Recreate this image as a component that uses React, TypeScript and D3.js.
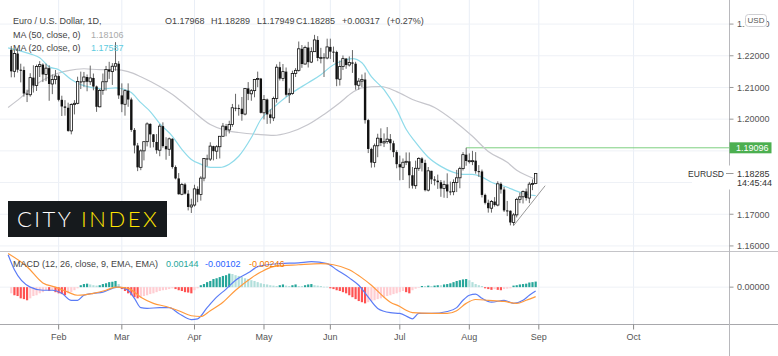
import React from 'react';
import * as d3 from 'd3';

// ---- Daily EUR/USD bars, 11 Jan 2021 .. 31 Aug 2021 ----
const opens = [
  1.2219,1.2151,1.2207,1.2156,1.2155,1.2081,1.2077,1.2131,1.2106,1.2166,1.2172,1.2141,1.2161,1.2111,1.2125,
  1.2136,1.2061,1.2040,1.2036,1.1963,1.2046,1.2050,1.2119,1.2118,1.2133,1.2118,1.2130,1.2103,1.2039,1.2091,1.2118,1.2157,1.2150,1.2167,1.2175,
  1.2075,1.2047,1.2090,1.2062,1.1966,1.1917,1.1848,1.1900,1.1929,1.1985,1.1952,1.1928,1.1902,1.1978,1.1915,1.1905,1.1938,1.1849,1.1813,1.1763,1.1794,1.1765,1.1723,
  1.1729,1.1780,1.1762,1.1814,1.1876,1.1874,1.1915,1.1899,1.1913,1.1946,1.1978,1.1966,1.1983,1.2036,1.2035,1.2033,1.2016,1.2097,1.2080,1.2090,1.2125,1.2128,
  1.2020,1.2062,1.2015,1.2004,1.2065,1.2164,1.2128,1.2150,1.2077,1.2081,1.2144,1.2154,1.2222,1.2174,1.2226,1.2180,1.2213,1.2250,1.2193,1.2195,1.2193,
  1.2228,1.2213,1.2212,1.2126,1.2166,1.2191,1.2171,1.2179,1.2175,1.2107,1.2120,1.2125,1.1997,1.1906,1.1863,1.1916,1.1940,1.1925,1.1929,1.1937,1.1924,1.1896,
  1.1858,1.1848,1.1864,1.1867,1.1823,1.1790,1.1845,1.1876,1.1862,1.1776,1.1837,1.1810,1.1806,1.1801,1.1781,1.1794,1.1772,1.1771,1.1800,1.1815,1.1844,1.1888,
  1.1868,1.1869,1.1869,1.1836,1.1835,1.1761,1.1736,1.1719,1.1740,1.1729,1.1796,1.1778,1.1712,1.1711,1.1674,1.1698,1.1747,1.1755,1.1772,1.1751,1.1795,1.17968,
];
const highs = [
  1.2231,1.2217,1.2223,1.2175,1.2166,1.2093,1.2145,1.2170,1.2172,1.2183,1.2176,1.2175,1.2170,1.2141,1.2155,
  1.2141,1.2074,1.2060,1.2052,1.2050,1.2060,1.2134,1.2150,1.2149,1.2141,1.2169,1.2144,1.2106,1.2095,1.2144,1.2168,1.2181,1.2177,1.2243,1.2183,
  1.2113,1.2094,1.2113,1.2068,1.1972,1.1925,1.1905,1.1928,1.1990,1.1987,1.1953,1.1953,1.1985,1.1990,1.1943,1.1942,1.1940,1.1854,1.1830,1.1799,1.1799,1.1776,1.1749,
  1.1793,1.1788,1.1820,1.1877,1.1888,1.1927,1.1916,1.1918,1.1947,1.1988,1.1985,1.1995,1.2048,1.2080,1.2046,1.2070,1.2098,1.2117,1.2095,1.2127,1.2150,1.2130,
  1.2076,1.2065,1.2031,1.2071,1.2173,1.2181,1.2174,1.2163,1.2097,1.2153,1.2161,1.2245,1.2234,1.2232,1.2244,1.2227,1.2266,1.2262,1.2225,1.2208,1.2254,
  1.2254,1.2229,1.2216,1.2185,1.2201,1.2193,1.2198,1.2218,1.2181,1.2130,1.2141,1.2147,1.2001,1.1910,1.1923,1.1954,1.1971,1.1955,1.1975,1.1953,1.1932,1.1902,
  1.1885,1.1876,1.1895,1.1895,1.1849,1.1869,1.1880,1.1880,1.1872,1.1849,1.1837,1.1820,1.1825,1.1808,1.1806,1.1829,1.1803,1.1810,1.1840,1.1850,1.1896,1.19096,
  1.1892,1.1900,1.1896,1.1855,1.1841,1.1765,1.1746,1.1745,1.1754,1.1804,1.1801,1.1786,1.1742,1.1712,1.1704,1.1752,1.1768,1.1775,1.1781,1.1802,1.1810,1.18289,
];
const lows = [
  1.2132,1.2132,1.2147,1.2116,1.2071,1.2054,1.2071,1.2084,1.2089,1.2133,1.2117,1.2120,1.2058,1.2079,1.2110,
  1.2056,1.2010,1.2011,1.1960,1.1952,1.2015,1.2047,1.2095,1.2102,1.2088,1.2108,1.2091,1.2023,1.2037,1.2077,1.2090,1.2127,1.2108,1.2153,1.2064,
  1.2022,1.2011,1.2039,1.1960,1.1892,1.1836,1.1839,1.1870,1.1914,1.1910,1.1911,1.1891,1.1883,1.1910,1.1872,1.1884,1.1844,1.1810,1.1762,1.1760,1.1762,1.1712,1.1704,
  1.1724,1.1738,1.1743,1.1804,1.1851,1.1868,1.1870,1.1874,1.1876,1.1944,1.1946,1.1955,1.1976,1.2025,1.2011,1.1995,1.2012,1.2060,1.2058,1.2069,1.2101,1.2018,
  1.1999,1.1985,1.1986,1.1994,1.2052,1.2122,1.2120,1.2071,1.2051,1.2077,1.2133,1.2150,1.2162,1.2172,1.2163,1.2177,1.2212,1.2183,1.2176,1.2133,1.2189,
  1.2190,1.2180,1.2104,1.2106,1.2155,1.2159,1.2166,1.2146,1.2093,1.2093,1.2101,1.1986,1.1893,1.1847,1.1848,1.1880,1.1915,1.1912,1.1922,1.1902,1.1880,1.1845,
  1.1807,1.1808,1.1855,1.1782,1.1781,1.1780,1.1837,1.1835,1.1772,1.1772,1.1795,1.1791,1.1780,1.1755,1.1752,1.1751,1.1760,1.1760,1.1770,1.1782,1.1838,1.1853,
  1.1860,1.1855,1.1828,1.1818,1.1753,1.1731,1.1705,1.1705,1.1724,1.1725,1.1765,1.1707,1.1694,1.1665,1.1664,1.1690,1.1735,1.1734,1.1743,1.1735,1.1776,1.17949,
];
const closes = [
  1.2151,1.2207,1.2156,1.2155,1.2081,1.2077,1.2131,1.2106,1.2166,1.2172,1.2141,1.2161,1.2111,1.2125,1.2136,
  1.2061,1.2040,1.2036,1.1963,1.2046,1.2050,1.2119,1.2118,1.2133,1.2118,1.2130,1.2103,1.2039,1.2091,1.2118,1.2157,1.2150,1.2167,1.2175,1.2075,
  1.2047,1.2090,1.2062,1.1966,1.1917,1.1848,1.1900,1.1929,1.1985,1.1952,1.1928,1.1902,1.1978,1.1915,1.1905,1.1938,1.1849,1.1813,1.1763,1.1794,1.1765,1.1723,1.1729,
  1.1780,1.1762,1.1814,1.1876,1.1874,1.1915,1.1899,1.1913,1.1946,1.1978,1.1966,1.1983,1.2036,1.2035,1.2033,1.2016,1.2097,1.2080,1.2090,1.2125,1.2128,1.2020,
  1.2062,1.2015,1.2004,1.2065,1.2164,1.2128,1.2150,1.2077,1.2081,1.2144,1.2154,1.2222,1.2174,1.2226,1.2180,1.2213,1.2250,1.2193,1.2195,1.2193,1.2228,
  1.2213,1.2212,1.2126,1.2166,1.2191,1.2171,1.2179,1.2175,1.2107,1.2120,1.2125,1.1997,1.1906,1.1863,1.1916,1.1940,1.1925,1.1929,1.1937,1.1924,1.1896,1.1858,
  1.1848,1.1864,1.1867,1.1823,1.1790,1.1845,1.1876,1.1862,1.1776,1.1837,1.1810,1.1806,1.1801,1.1781,1.1794,1.1772,1.1771,1.1800,1.1815,1.1844,1.1888,1.1868,
  1.1869,1.1869,1.1836,1.1835,1.1761,1.1736,1.1719,1.1740,1.1729,1.1796,1.1778,1.1712,1.1711,1.1674,1.1698,1.1747,1.1755,1.1772,1.1751,1.1795,1.17968,1.18285,
];

// ---- Moving averages: [bar index, price] ----
const ma20Pts: [number, number][] = [
  [-1,1.2225],[6,1.2206],[9,1.2194],[12,1.2165],[15,1.2156],[19,1.2125],[22,1.2109],[26,1.2099],[30,1.2096],[33,1.2099],
  [35,1.2096],[38,1.2084],[41,1.2052],[44,1.2024],[47,1.1986],[51,1.1946],[54,1.1905],[57,1.1873],[60,1.1858],[63,1.1848],
  [66,1.1848],[69,1.1858],[72,1.1883],[76,1.1942],[79,1.1999],[83,1.2037],[88,1.2077],[94,1.2115],[98,1.2140],[101,1.2165],
  [104,1.2181],[108,1.2191],[111,1.2178],[114,1.2134],[118,1.2093],[122,1.2030],[125,1.1968],[128,1.1927],[132,1.1880],
  [136,1.1851],[140,1.1832],[143,1.1826],[146,1.1826],[149,1.1817],[152,1.1801],[157,1.1785],[160,1.1773],[163,1.1763],[166,1.17587],
];
const ma50Pts: [number, number][] = [
  [-1,1.2037],[3,1.2068],[7,1.2103],[12,1.2134],[18,1.2153],[23,1.2159],[28,1.2156],[33,1.2156],[37,1.2150],[41,1.2134],
  [47,1.2103],[52,1.2071],[57,1.2030],[63,1.1983],[68,1.1964],[72,1.1958],[78,1.1952],[83,1.1949],[88,1.1958],[94,1.1983],
  [99,1.2015],[104,1.2052],[108,1.2084],[111,1.2099],[117,1.2103],[122,1.2087],[127,1.2062],[134,1.2037],[140,1.1996],
  [146,1.1946],[151,1.1898],[157,1.1864],[160,1.1839],[163,1.1823],[166,1.18106],
];

// ---- MACD (12, 26, 9), values in units of 0.0001 ----
const macdPts: [number, number][] = [
  [-1,84],[1,45],[6,0],[10,-8],[13,-8],[16,-16],[19,-34],[21,-34],[23,-21],[26,-16],[29,-13],[32,-3],[34,0],[37,-8],
  [39,-29],[41,-53],[43,-55],[47,-53],[50,-53],[53,-68],[57,-84],[59,-82],[62,-53],[65,-26],[68,-5],[71,18],[75,37],
  [78,53],[81,58],[85,61],[91,63],[95,66],[100,61],[103,45],[107,24],[110,5],[113,-26],[116,-55],[120,-66],[123,-68],
  [126,-79],[127,-82],[129,-68],[133,-68],[138,-63],[141,-53],[143,-34],[145,-21],[147,-18],[149,-29],[152,-39],
  [156,-34],[159,-42],[162,-34],[164,-21],[166,-10.2],
];
const signalPts: [number, number][] = [
  [-1,87],[5,53],[10,11],[14,0],[18,-13],[21,-21],[26,-16],[30,-8],[33,0],[37,-3],[41,-26],[45,-42],[49,-50],[53,-61],
  [57,-74],[60,-76],[63,-61],[67,-39],[71,-8],[76,24],[79,39],[83,53],[91,58],[98,61],[102,58],[107,45],[111,24],
  [114,5],[118,-26],[120,-39],[123,-50],[125,-60],[127,-66],[133,-68],[138,-68],[141,-61],[144,-42],[147,-32],
  [151,-34],[156,-37],[160,-42],[163,-34],[166,-24.6],
];
const histE4 = [
  -16,-21,-23,-29,-31,-34,-29,-23,-21,-16,-13,-8,-10,-8,-13,-16,-18,-21,-16,-13,-8,-3,5,8,9,7,5,4,5,8,10,13,14,16,8,
  -5,-10,-16,-21,-26,-29,-26,-23,-21,-18,-16,-13,-10,-8,-7,-5,-3,-5,-8,-10,-13,-14,-16,-8,-3,
  5,8,13,16,21,23,26,29,31,35,34,31,29,26,23,21,18,16,13,10,8,7,5,4,
  3,5,7,4,3,5,7,3,3,5,7,8,5,4,3,1,1,
  -3,-5,-8,-10,-13,-16,-21,-26,-31,-36,-39,-42,-39,-36,-34,-31,-29,-26,-23,-21,-18,-16,-13,-10,-13,-16,-8,-4,-1,
  3,3,4,3,4,5,5,7,8,10,13,16,18,20,21,18,13,8,5,3,
  -3,-5,-7,-5,-7,-8,-5,-4,-3,4,5,7,8,9,12,13,14.4,
];

// ---- Axes ----
const monthLabels = ['Feb', 'Mar', 'Apr', 'May', 'Jun', 'Jul', 'Aug', 'Sep', 'Oct'];
const monthBars = [15, 35, 58, 80, 101, 123, 145, 167, 197];
const priceTicks = [1.16, 1.17, 1.18, 1.19, 1.2, 1.21, 1.22, 1.23];

// ---- Drawings ----
const resistanceLevel = 1.19096;
const resistanceFromBar = 144;
const trendLine: [number, number][] = [[159, 1.1664], [169, 1.179]];

const FONT = "'Liberation Sans', Arial, sans-serif";

export default function App() {
  const W = 778, H = 356;
  const axisX = 729.5;
  const mainTop = 0, mainBottom = 251;
  const macdTop = 252, macdBottom = 325;
  const timeAxisY = 324.5;

  const x = d3.scaleLinear().domain([0, 166]).range([11.27, 11.27 + 166 * 3.159]);
  const y = d3.scaleLinear().domain([1.1584, 1.2376]).range([mainBottom, mainTop]);
  const ym = d3.scaleLinear().domain([-98, 91]).range([macdBottom, macdTop]);

  const pLine = d3.line<[number, number]>().x(d => x(d[0])).y(d => y(d[1])).curve(d3.curveMonotoneX);
  const mLine = d3.line<[number, number]>().x(d => x(d[0])).y(d => ym(d[1])).curve(d3.curveMonotoneX);

  const last = closes.length - 1;
  const lastY = y(closes[last]);
  const resY = y(resistanceLevel);
  const bodyW = 2.4;

  const histColor = (i: number) => {
    const v = histE4[i];
    const p = i > 0 ? histE4[i - 1] : v;
    if (v >= 0) return v > p ? '#26a69a' : '#b2dfdb';
    return v < p ? '#ff5252' : '#ffcdd2';
  };

  // labels hidden by the last-price and resistance badges (as on the chart)
  const visibleTicks = priceTicks.filter(p => Math.abs(y(p) - lastY) > 10 && Math.abs(y(p) - resY) > 9);

  return (
    <svg width={W} height={H} style={{ position: 'absolute', left: 0, top: 0, background: '#fff' }} fontFamily={FONT}>
      <defs>
        <clipPath id="mainClip"><rect x={0} y={mainTop} width={axisX} height={mainBottom - mainTop} /></clipPath>
        <clipPath id="macdClip"><rect x={0} y={macdTop} width={axisX} height={timeAxisY - macdTop} /></clipPath>
        <clipPath id="topLabelClip"><rect x={734} y={0} width={11} height={40} /><rect x={766.5} y={0} width={12} height={40} /></clipPath>
      </defs>
      <rect x={0} y={0} width={W} height={H} fill="#fff" />

      {/* vertical grid */}
      {monthBars.map((b, k) => (
        <line key={'vg' + k} x1={x(b)} x2={x(b)} y1={0} y2={timeAxisY} stroke="#e9eef6" strokeWidth={1} />
      ))}
      {/* horizontal grid */}
      {priceTicks.map((p, k) => (
        <line key={'hg' + k} x1={0} x2={axisX} y1={y(p)} y2={y(p)} stroke="#eef1f6" strokeWidth={1} />
      ))}
      <line x1={0} x2={axisX} y1={ym(0)} y2={ym(0)} stroke="#eef1f6" strokeWidth={1} />

      <g clipPath="url(#mainClip)">
        {/* resistance line */}
        <line x1={x(resistanceFromBar)} x2={axisX} y1={resY} y2={resY} stroke="#7ccf7f" strokeWidth={1} />
        {/* MAs */}
        <path d={pLine(ma50Pts) || ''} fill="none" stroke="#c6c6cc" strokeWidth={1.2} />
        <path d={pLine(ma20Pts) || ''} fill="none" stroke="#8fdbea" strokeWidth={1.2} />
        {/* candles */}
        {closes.map((c, i) => {
          const o = opens[i];
          const cx = x(i);
          const up = c >= o;
          const top = y(Math.max(o, c));
          const h = Math.max(1, Math.abs(y(o) - y(c)));
          return (
            <g key={'c' + i}>
              <line x1={cx} x2={cx} y1={y(highs[i])} y2={y(lows[i])} stroke="#666" strokeWidth={1} />
              <rect x={cx - bodyW / 2} y={top} width={bodyW} height={h}
                fill={up ? '#ffffff' : '#111111'} stroke={up ? '#111' : 'none'} strokeWidth={up ? 0.8 : 0} />
            </g>
          );
        })}
        {/* trend line */}
        <line x1={x(trendLine[0][0])} y1={y(trendLine[0][1])} x2={x(trendLine[1][0])} y2={y(trendLine[1][1])} stroke="#9a9a9a" strokeWidth={1} />
      </g>

      {/* City Index logo */}
      <rect x={8} y={201} width={159} height={36} fill="#161a1d" />
      <text x={17} y={227} fontFamily="Lato, 'Open Sans', sans-serif" fontSize={22} fontWeight={300} letterSpacing={2.5} fill="#fff">
        CITY <tspan fill="#ffe500">INDEX</tspan>
      </text>

      {/* legend */}
      <g fontSize={9} fill="#444">
        <text x={13} y={24.3}>Euro / U.S. Dollar, 1D,</text>
        <text x={165} y={24.3}>O1.17968</text>
        <text x={211} y={24.3}>H1.18289</text>
        <text x={257} y={24.3}>L1.17949</text>
        <text x={296} y={24.3}>C1.18285</text>
        <text x={342} y={24.3}>+0.00317</text>
        <text x={387} y={24.3}>(+0.27%)</text>
        <text x={13} y={37.6}>MA (50, close, 0)</text>
        <text x={91} y={37.6} fill="#aaaaaa">1.18106</text>
        <text x={13} y={51.3}>MA (20, close, 0)</text>
        <text x={91} y={51.3} fill="#5ccbe0">1.17587</text>
      </g>

      {/* pane separator */}
      <line x1={0} x2={W} y1={251.5} y2={251.5} stroke="#c4c4c8" strokeWidth={1} />

      {/* MACD pane */}
      <g clipPath="url(#macdClip)">
        {histE4.map((v, i) => (
          <rect key={'h' + i} x={x(i) - 1.1} width={2.2}
            y={Math.min(ym(v), ym(0))} height={Math.max(0.6, Math.abs(ym(v) - ym(0)))} fill={histColor(i)} />
        ))}
        <path d={mLine(macdPts) || ''} fill="none" stroke="#5b7cf6" strokeWidth={1.2} />
        <path d={mLine(signalPts) || ''} fill="none" stroke="#ff9a3d" strokeWidth={1.2} />
      </g>
      <g fontSize={9}>
        <text x={13} y={267.3} fill="#444">MACD (12, 26, close, 9, EMA, EMA)</text>
        <text x={166} y={267.3} fill="#26a69a">0.00144</text>
        <text x={205} y={267.3} fill="#2962ff">-0.00102</text>
        <text x={249} y={267.3} fill="#f57c00">-0.00246</text>
      </g>

      {/* time axis */}
      <line x1={0} x2={W} y1={timeAxisY} y2={timeAxisY} stroke="#a8a8ac" strokeWidth={1} />
      {monthBars.map((b, k) => (
        <g key={'mt' + k}>
          <line x1={x(b)} x2={x(b)} y1={timeAxisY} y2={timeAxisY + 5} stroke="#888" strokeWidth={1} />
          <text x={x(b)} y={340} fontSize={9} fill="#555" textAnchor="middle">{monthLabels[k]}</text>
        </g>
      ))}

      {/* right price axis */}
      <line x1={axisX} x2={axisX} y1={0} y2={H} stroke="#b8b8bc" strokeWidth={1} />
      {visibleTicks.map((p, k) => {
        const isTop = p === priceTicks[priceTicks.length - 1];
        return (
          <g key={'pt' + k}>
            <line x1={axisX} x2={axisX + 4} y1={y(p)} y2={y(p)} stroke="#999" strokeWidth={1} />
            <text x={737} y={y(p) + 3.3} fontSize={9} fill="#555" clipPath={isTop ? 'url(#topLabelClip)' : undefined}>{p.toFixed(5)}</text>
          </g>
        );
      })}
      <g>
        <line x1={axisX} x2={axisX + 4} y1={ym(0)} y2={ym(0)} stroke="#999" strokeWidth={1} />
        <text x={737} y={ym(0) + 3.3} fontSize={9} fill="#555">{(0).toFixed(5)}</text>
      </g>
      {/* USD badge */}
      <rect x={745.5} y={14.5} width={21} height={12} rx={3} fill="#fff" stroke="#cfcfd3" />
      <text x={756} y={23.3} fontSize={8} fill="#555" textAnchor="middle">USD</text>

      {/* resistance price label */}
      <rect x={axisX} y={resY - 5.5} width={42} height={11} fill="#4caf50" />
      <text x={736} y={resY + 3.3} fontSize={9} fill="#fff">{resistanceLevel.toFixed(5)}</text>

      {/* last price label */}
      <rect x={692} y={lastY - 8} width={86} height={24} fill="#fff" />
      <text x={724} y={lastY + 3.3} fontSize={8.5} fill="#333" textAnchor="end">EURUSD</text>
      <line x1={726} x2={axisX + 4} y1={lastY} y2={lastY} stroke="#999" strokeWidth={1} />
      <text x={737} y={lastY + 3.3} fontSize={9} fill="#333">{closes[last].toFixed(5)}</text>
      <text x={737} y={lastY + 12.8} fontSize={9} fill="#333">14:45:44</text>
    </svg>
  );
}
